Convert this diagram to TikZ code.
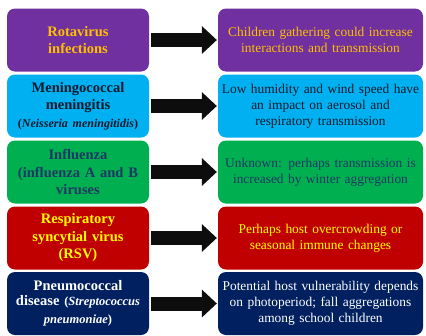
\documentclass[tikz,border=0pt]{standalone}
\usepackage{fontspec}
\setmainfont{Liberation Serif}
\usetikzlibrary{arrows.meta}

\definecolor{rotapurple}{HTML}{7030A0}
\definecolor{meningcyan}{HTML}{00B0F0}
\definecolor{flugreen}{HTML}{00B050}
\definecolor{rsvred}{HTML}{C00000}
\definecolor{pneunavy}{HTML}{002060}
\definecolor{goldtext}{HTML}{FFC000}
\definecolor{darktext}{HTML}{0E1A2E}
\definecolor{navytext}{HTML}{1F3864}
\definecolor{yellowtext}{HTML}{FFFF00}
\definecolor{arrowblack}{HTML}{0D0D0D}

\begin{document}
\begin{tikzpicture}[x=1pt,y=-1pt,
    disease/.style={rounded corners=8pt,minimum width=142pt,minimum height=63pt,
        inner sep=0pt,text width=136pt,align=center,font=\fontsize{14.5}{17.5}\selectfont\bfseries},
    factor/.style={rounded corners=8pt,minimum width=205pt,minimum height=63pt,
        inner sep=0pt,text width=200pt,align=center,font=\fontsize{13.4}{16}\selectfont},
    bigarrow/.style={draw=arrowblack,line width=14pt,shorten <=2pt,shorten >=1pt,
        -{Triangle[length=15pt,width=28pt,line width=0pt]}}]
    \useasboundingbox (0,0) rectangle (426,335);

    % diseases
    \node[disease,fill=rotapurple,text=goldtext] (l1) at (78,40) {Rotavirus\\infections};
    \node[disease,fill=meningcyan,text=darktext] (l2) at (78,106)
        {Meningococcal\\meningitis\\{\fontsize{12}{14}\selectfont(\textit{Neisseria meningitidis})}};
    \node[disease,fill=flugreen,text=navytext] (l3) at (78,172) {Influenza\\(influenza A and B\\viruses};
    \node[disease,fill=rsvred,text=yellowtext] (l4) at (78,238) {Respiratory\\syncytial virus\\(RSV)};
    \node[disease,fill=pneunavy,text=white] (l5) at (78,303.5)
        {Pneumococcal\\disease {\fontsize{12.5}{15}\selectfont(\textit{Streptococcus}\\\textit{pneumoniae})}};

    % seasonal drivers
    \node[factor,fill=rotapurple,text=goldtext] (r1) at (320.5,40)
        {Children gathering could increase\\interactions and transmission};
    \node[factor,fill=meningcyan,text=darktext] (r2) at (320.5,106)
        {Low humidity and wind speed have\\an impact on aerosol and\\respiratory transmission};
    \node[factor,fill=flugreen,text=navytext] (r3) at (320.5,172)
        {Unknown: perhaps transmission is\\increased by winter aggregation};
    \node[factor,fill=rsvred,text=yellowtext] (r4) at (320.5,238)
        {Perhaps host overcrowding or\\seasonal immune changes};
    \node[factor,fill=pneunavy,text=white] (r5) at (320.5,303.5)
        {Potential host vulnerability depends\\on photoperiod; fall aggregations\\among school children};

    \foreach \i in {1,...,5} {
        \draw[bigarrow] (l\i) -- (r\i);
    }
\end{tikzpicture}
\end{document}
